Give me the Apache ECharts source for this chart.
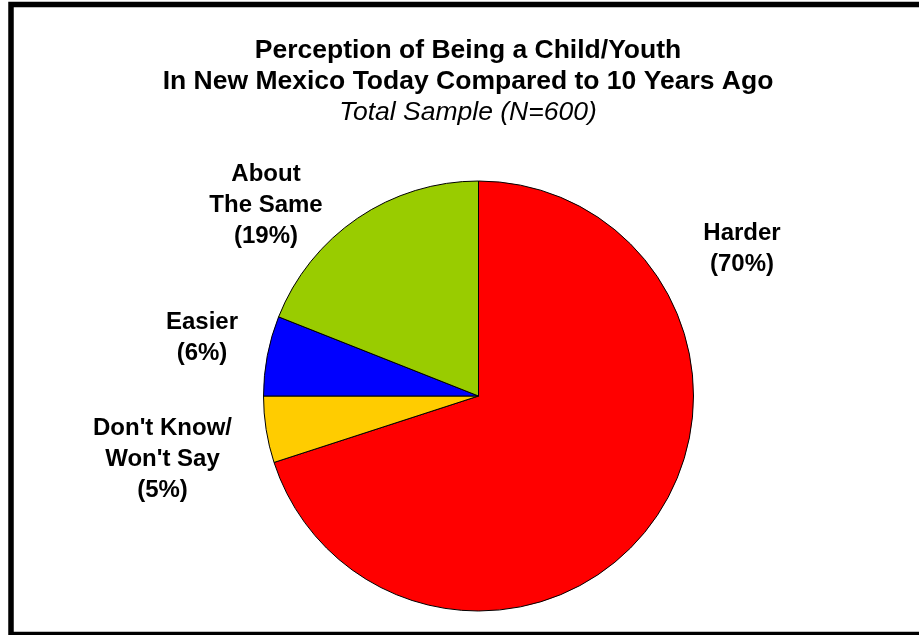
<!DOCTYPE html>
<html>
<head>
<meta charset="utf-8">
<script src="https://cdn.jsdelivr.net/npm/echarts@6/dist/echarts.min.js"></script>
<style>
  html, body { margin: 0; padding: 0; background: #fff; }
  #chart { width: 919px; height: 635px; }
</style>
</head>
<body>
<div id="chart"></div>
<script>
const titleLines = ['Perception of Being a Child/Youth', 'In New Mexico Today Compared to 10 Years Ago'];
const subtitle = 'Total Sample (N=600)';
const categories = ['Harder', "Don't Know/\nWon't Say", 'Easier', 'About\nThe Same'];
const values = [70, 5, 6, 19];
const colors = ['#FF0000', '#FFCC00', '#0000FF', '#99CC00'];

// label block centres (layout only)
const labelCenters = [[742, 249], [162.5, 459], [202, 338], [266, 205]];

const FONT = '"Liberation Sans", Arial, Helvetica, sans-serif';

const chart = echarts.init(document.getElementById('chart'), null, { renderer: 'canvas' });
chart.setOption({
  animation: false,
  backgroundColor: '#ffffff',
  graphic: [
    {
      type: 'rect', silent: true, z: 100,
      shape: { x: 11, y: 4.5, width: 1000, height: 630 },
      style: { fill: 'none', stroke: '#000', lineWidth: 5.5 }
    },
    {
      type: 'text', silent: true,
      style: { text: titleLines[0], x: 468, y: 51, align: 'center', verticalAlign: 'middle',
               font: 'bold 26.5px ' + FONT, fill: '#000' }
    },
    {
      type: 'text', silent: true,
      style: { text: titleLines[1], x: 468, y: 82, align: 'center', verticalAlign: 'middle',
               font: 'bold 26.5px ' + FONT, fill: '#000' }
    },
    {
      type: 'text', silent: true,
      style: { text: subtitle, x: 468, y: 112.5, align: 'center', verticalAlign: 'middle',
               font: 'italic 26.5px ' + FONT, fill: '#000' }
    }
  ],
  series: [{
    type: 'pie',
    center: [478.5, 396],
    radius: 215,
    startAngle: 90,
    clockwise: true,
    silent: true,
    emphasis: { disabled: true },
    itemStyle: { borderColor: '#000', borderWidth: 1 },
    label: {
      show: true,
      position: 'outside',
      formatter: p => p.name + '\n(' + p.value + '%)',
      fontFamily: FONT,
      fontWeight: 'bold',
      fontSize: 24,
      lineHeight: 31,
      color: '#000',
      align: 'center'
    },
    labelLine: { show: false },
    labelLayout: function (params) {
      const c = labelCenters[params.dataIndex];
      return { x: c[0], y: c[1], align: 'center', verticalAlign: 'middle', hideOverlap: false, moveOverlap: null };
    },
    data: categories.map((name, i) => ({ name: name, value: values[i], itemStyle: { color: colors[i] } }))
  }]
});
</script>
</body>
</html>
